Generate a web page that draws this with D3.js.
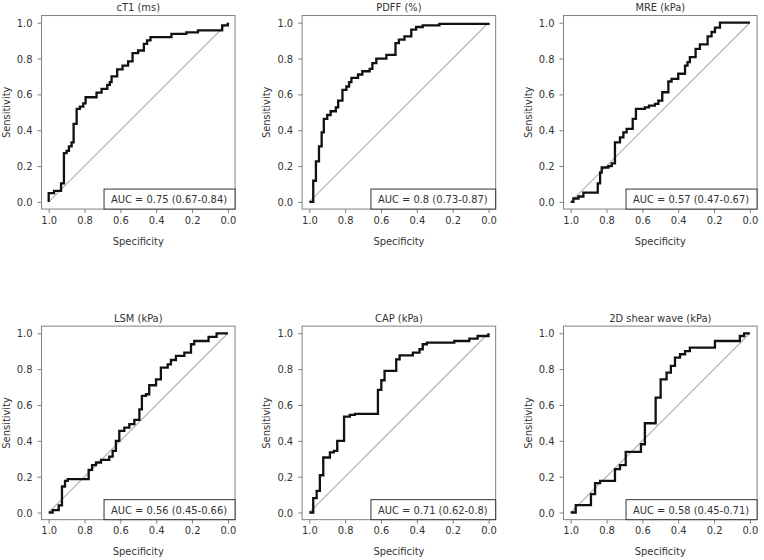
<!DOCTYPE html>
<meta charset="utf-8">
<style>
	body { margin: 0; background: #fff; }
	text { font-family: "DejaVu Sans Condensed", "DejaVu Sans", sans-serif; font-size: 11px; fill: #333; }
	.frame { fill: none; stroke: #808080; stroke-width: 1px; }
	.tick line { stroke: #808080; }
	.domain { display: none; }
	.diag { stroke: #b8b8b8; stroke-width: 1.3px; }
	.roc { fill: none; stroke: #111; stroke-width: 2.3px; }
	.leg { fill: #fff; stroke: #333; stroke-width: 1px; }
</style>
<svg id="chart" width="764" height="560"></svg>
<script src="https://d3js.org/d3.v7.min.js"></script>
<script>
	// panels, left to right then top to bottom
	var titles = ["cT1 (ms)", "PDFF (%)", "MRE (kPa)", "LSM (kPa)", "CAP (kPa)", "2D shear wave (kPa)"];
	var aucLabels = ["AUC = 0.75 (0.67-0.84)", "AUC = 0.8 (0.73-0.87)", "AUC = 0.57 (0.47-0.67)",
		"AUC = 0.56 (0.45-0.66)", "AUC = 0.71 (0.62-0.8)", "AUC = 0.58 (0.45-0.71)"];
	var tickValues = [0, 0.2, 0.4, 0.6, 0.8, 1.0];

	// step points: specificity where the curve rises, sensitivity reached
	var cT1Spec = [1, 1, 0.970, 0.931, 0.915, 0.900, 0.887, 0.872, 0.861, 0.844, 0.826, 0.807, 0.794, 0.733, 0.705, 0.673, 0.659, 0.649, 0.618, 0.588, 0.557, 0.532, 0.501, 0.469, 0.451, 0.432, 0.315, 0.232, 0.167, 0.032, 0];
	var cT1Sens = [0, 0.049, 0.062, 0.103, 0.272, 0.285, 0.310, 0.332, 0.435, 0.519, 0.532, 0.550, 0.584, 0.610, 0.631, 0.653, 0.668, 0.700, 0.739, 0.761, 0.784, 0.830, 0.845, 0.882, 0.901, 0.920, 0.938, 0.946, 0.957, 0.985, 1];

	var pdffSpec = [1, 0.978, 0.963, 0.946, 0.931, 0.919, 0.900, 0.881, 0.852, 0.839, 0.815, 0.793, 0.778, 0.765, 0.728, 0.704, 0.663, 0.648, 0.626, 0.570, 0.519, 0.500, 0.469, 0.431, 0.404, 0.367, 0.274, 0];
	var pdffSens = [0, 0.118, 0.226, 0.310, 0.388, 0.463, 0.485, 0.506, 0.528, 0.565, 0.625, 0.644, 0.668, 0.692, 0.711, 0.729, 0.742, 0.774, 0.799, 0.821, 0.886, 0.905, 0.924, 0.961, 0.976, 0.985, 0.994, 1];

	var mreSpec = [1, 0.985, 0.957, 0.929, 0.849, 0.836, 0.827, 0.790, 0.771, 0.753, 0.725, 0.706, 0.688, 0.654, 0.636, 0.586, 0.563, 0.530, 0.511, 0.489, 0.455, 0.437, 0.400, 0.362, 0.348, 0.335, 0.303, 0.279, 0.236, 0.214, 0.195, 0.167, 0];
	var mreSens = [0, 0.019, 0.030, 0.052, 0.103, 0.164, 0.192, 0.200, 0.215, 0.332, 0.360, 0.388, 0.407, 0.463, 0.519, 0.528, 0.537, 0.547, 0.565, 0.612, 0.672, 0.687, 0.715, 0.761, 0.780, 0.808, 0.854, 0.879, 0.924, 0.948, 0.972, 1, 1];

	var lsmSpec = [1, 0.978, 0.944, 0.926, 0.909, 0.894, 0.777, 0.758, 0.736, 0.708, 0.662, 0.643, 0.625, 0.606, 0.578, 0.550, 0.522, 0.494, 0.480, 0.457, 0.439, 0.401, 0.374, 0.336, 0.318, 0.290, 0.243, 0.206, 0.188, 0.108, 0.063, 0];
	var lsmSens = [0, 0.013, 0.040, 0.145, 0.177, 0.186, 0.238, 0.264, 0.279, 0.294, 0.312, 0.344, 0.400, 0.455, 0.474, 0.493, 0.517, 0.576, 0.651, 0.660, 0.710, 0.743, 0.809, 0.827, 0.851, 0.874, 0.892, 0.939, 0.957, 0.980, 1, 1];

	var capSpec = [1, 0.978, 0.959, 0.941, 0.922, 0.885, 0.863, 0.844, 0.806, 0.774, 0.746, 0.617, 0.598, 0.580, 0.515, 0.496, 0.422, 0.385, 0.367, 0.344, 0.191, 0.107, 0.061, 0];
	var capSens = [0, 0.080, 0.121, 0.208, 0.307, 0.335, 0.344, 0.400, 0.535, 0.545, 0.550, 0.684, 0.738, 0.790, 0.855, 0.877, 0.892, 0.911, 0.939, 0.948, 0.957, 0.970, 0.985, 1];

	var swSpec = [1, 0.972, 0.887, 0.864, 0.836, 0.753, 0.725, 0.693, 0.608, 0.586, 0.526, 0.498, 0.465, 0.441, 0.418, 0.390, 0.362, 0.335, 0.195, 0.056, 0.032, 0];
	var swSens = [0, 0.041, 0.102, 0.164, 0.177, 0.242, 0.264, 0.338, 0.381, 0.498, 0.641, 0.743, 0.781, 0.818, 0.864, 0.883, 0.901, 0.920, 0.957, 0.985, 1, 1];

	var specs = [cT1Spec, pdffSpec, mreSpec, lsmSpec, capSpec, swSpec];
	var senss = [cT1Sens, pdffSens, mreSens, lsmSens, capSens, swSens];

	var svg = d3.select("#chart");
	var colLeft = [48.7, 309.3, 570.7],
		rowTop = [22.7, 333.3],
		span = 179.2;

	titles.forEach(function(title, i) {
		var left = colLeft[i % 3], top = rowTop[Math.floor(i / 3)];
		var g = svg.append("g").attr("transform", "translate(" + left + "," + top + ")");

		var x = d3.scaleLinear().domain([1, 0]).range([0, span]),
			y = d3.scaleLinear().domain([0, 1]).range([span, 0]);

		var bx0 = x(1.04), bx1 = x(-0.04), by0 = y(1.04), by1 = y(-0.04);

		g.append("line").attr("class", "diag")
			.attr("x1", x(1)).attr("y1", y(0)).attr("x2", x(0)).attr("y2", y(1));

		var line = d3.line()
			.curve(d3.curveStepAfter)
			.x(function(d) { return x(d[0]); })
			.y(function(d) { return y(d[1]); });
		var pts = specs[i].map(function(s, k) { return [s, senss[i][k]]; });
		g.append("path").attr("class", "roc").attr("d", line(pts));

		g.append("rect").attr("class", "frame")
			.attr("x", bx0).attr("y", by0).attr("width", bx1 - bx0).attr("height", by1 - by0);

		g.append("g")
			.attr("transform", "translate(0," + by1 + ")")
			.call(d3.axisBottom(x).tickValues(tickValues).tickSize(4).tickPadding(3).tickFormat(d3.format(".1f")));
		g.append("g")
			.attr("transform", "translate(" + bx0 + ",0)")
			.call(d3.axisLeft(y).tickValues(tickValues).tickSize(4).tickPadding(5).tickFormat(d3.format(".1f")));
		g.selectAll(".tick text").style("font-size", "11px").style("font-family", null).attr("fill", "#333");

		g.append("text").attr("x", x(0.5)).attr("y", -11.5)
			.attr("text-anchor", "middle").text(title);
		g.append("text").attr("x", x(0.5)).attr("y", span + 43)
			.attr("text-anchor", "middle").text("Specificity");
		g.append("text")
			.attr("transform", "translate(-39," + y(0.5) + ") rotate(-90)")
			.attr("text-anchor", "middle").text("Sensitivity");

		// AUC legend in the bottom right corner
		var leg = g.append("g");
		var rect = leg.append("rect").attr("class", "leg");
		var t = leg.append("text").text(aucLabels[i]);
		var w = t.node().getComputedTextLength() + 15;
		rect.attr("x", bx1 - w).attr("y", by1 - 20).attr("width", w).attr("height", 20);
		t.attr("x", bx1 - w + 7).attr("y", by1 - 6);
	});
</script>
